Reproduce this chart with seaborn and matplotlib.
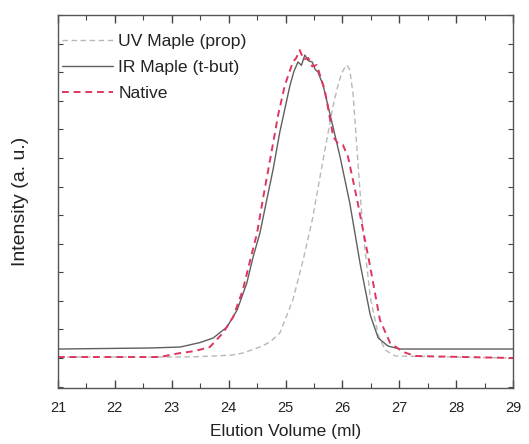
import matplotlib
matplotlib.use("Agg")
import matplotlib.pyplot as plt
import seaborn as sns
import pandas as pd
from matplotlib.ticker import MultipleLocator, NullFormatter

sns.set_theme(style="white")
plt.rcParams["font.family"] = ["Liberation Sans", "DejaVu Sans"]

# Elution profiles (volume in ml, normalised intensity)
uv_vol = [21.00, 23.15, 23.50, 24.05, 24.25, 24.55, 24.73, 24.90, 25.13, 25.31,
          25.47, 25.66, 25.84, 25.93, 25.99, 26.03, 26.08, 26.13, 26.19, 26.27,
          26.36, 26.49, 26.63, 26.75, 26.93, 29.00]
uv_int = [0.017, 0.017, 0.025, 0.050, 0.087, 0.192, 0.280, 0.437, 1.015, 1.714,
          2.414, 3.463, 4.425, 4.80, 4.985, 5.06, 5.125, 5.038, 4.600, 3.463,
          2.239, 1.067, 0.402, 0.140, 0.035, 0.0]

ir_vol = [21.00, 22.62, 23.15, 23.50, 23.73, 23.97, 24.15, 24.32, 24.43, 24.55,
          24.67, 24.78, 24.90, 25.08, 25.15, 25.22, 25.28, 25.34, 25.40, 25.47,
          25.52, 25.57, 25.66, 25.84, 25.96, 26.13, 26.31, 26.49, 26.63, 26.80,
          27.01, 29.00]
ir_int = [0.157, 0.175, 0.192, 0.271, 0.350, 0.542, 0.840, 1.312, 1.767, 2.186,
          2.764, 3.288, 3.953, 4.775, 5.02, 5.178, 5.12, 5.300, 5.20, 5.178,
          5.05, 5.003, 4.775, 4.023, 3.516, 2.711, 1.662, 0.752, 0.350, 0.210,
          0.157, 0.157]

nat_vol = [21.00, 22.79, 23.15, 23.41, 23.67, 23.90, 24.08, 24.25, 24.38, 24.50,
           24.60, 24.76, 24.87, 24.99, 25.13, 25.19, 25.25, 25.32, 25.40, 25.47,
           25.55, 25.69, 25.84, 25.92, 26.01, 26.10, 26.26, 26.49, 26.66, 26.84,
           27.07, 27.28, 29.00]
nat_int = [0.017, 0.017, 0.087, 0.122, 0.192, 0.437, 0.717, 1.189, 1.714, 2.186,
           2.764, 3.638, 4.250, 4.775, 5.178, 5.25, 5.387, 5.22, 5.248, 5.10,
           5.125, 4.688, 3.866, 3.761, 3.726, 3.516, 2.764, 1.592, 0.665, 0.262,
           0.105, 0.035, 0.0]

series_names = ["UV Maple (prop)", "IR Maple (t-but)", "Native"]

frames = []
for name, v, i in zip(series_names, [uv_vol, ir_vol, nat_vol], [uv_int, ir_int, nat_int]):
    frames.append(pd.DataFrame({"vol": v, "intensity": i, "sample": name}))
df = pd.concat(frames, ignore_index=True)

fig = plt.figure(figsize=(5.29, 4.44), dpi=100)
ax = fig.add_axes([0.1096, 0.1261, 0.8602, 0.8401])

styles = {
    "UV Maple (prop)": dict(color="#b8b8b8", lw=1.0, ls=(0, (4, 2.5))),
    "IR Maple (t-but)": dict(color="#5f5f5f", lw=1.0, ls="-"),
    "Native": dict(color="#e0365e", lw=1.4, ls=(0, (3.5, 2.5))),
}
for name in series_names:
    st = styles[name]
    sns.lineplot(data=df[df["sample"] == name], x="vol", y="intensity", ax=ax,
                 color=st["color"], linewidth=st["lw"], linestyle=st["ls"],
                 label=name, estimator=None, sort=False)

ax.set_xlim(21, 29)
ax.set_ylim(-0.525, 6.0)
ax.xaxis.set_major_locator(MultipleLocator(1))
ax.xaxis.set_minor_locator(MultipleLocator(0.5))
ax.yaxis.set_major_locator(MultipleLocator(1))
ax.yaxis.set_minor_locator(MultipleLocator(0.5))
ax.yaxis.set_major_formatter(NullFormatter())

ax.tick_params(axis="both", which="major", direction="in", length=6, width=1,
               color="#444444", top=True, right=True, bottom=True, left=True,
               labelsize=10.5, labelcolor="#222222", pad=9)
ax.tick_params(axis="both", which="minor", direction="in", length=3.5, width=0.8,
               color="#444444", top=True, right=True, bottom=True, left=True)
ax.tick_params(axis="y", which="major", length=3.5, width=0.8)
for sp in ax.spines.values():
    sp.set_color("#555555")
    sp.set_linewidth(1.0)

ax.set_xlabel("Elution Volume (ml)", fontsize=12.5, color="#222222", labelpad=7)
ax.set_ylabel("Intensity (a. u.)", fontsize=14, color="#222222", labelpad=12)

leg = ax.legend(loc="upper left", frameon=False, fontsize=12.6, handlelength=2.9,
                handletextpad=0.3, labelspacing=0.6, borderaxespad=0.0,
                bbox_to_anchor=(-0.006, 0.968))
for t in leg.get_texts():
    t.set_color("#222222")

fig.savefig("out.png", dpi=100, facecolor="white")
